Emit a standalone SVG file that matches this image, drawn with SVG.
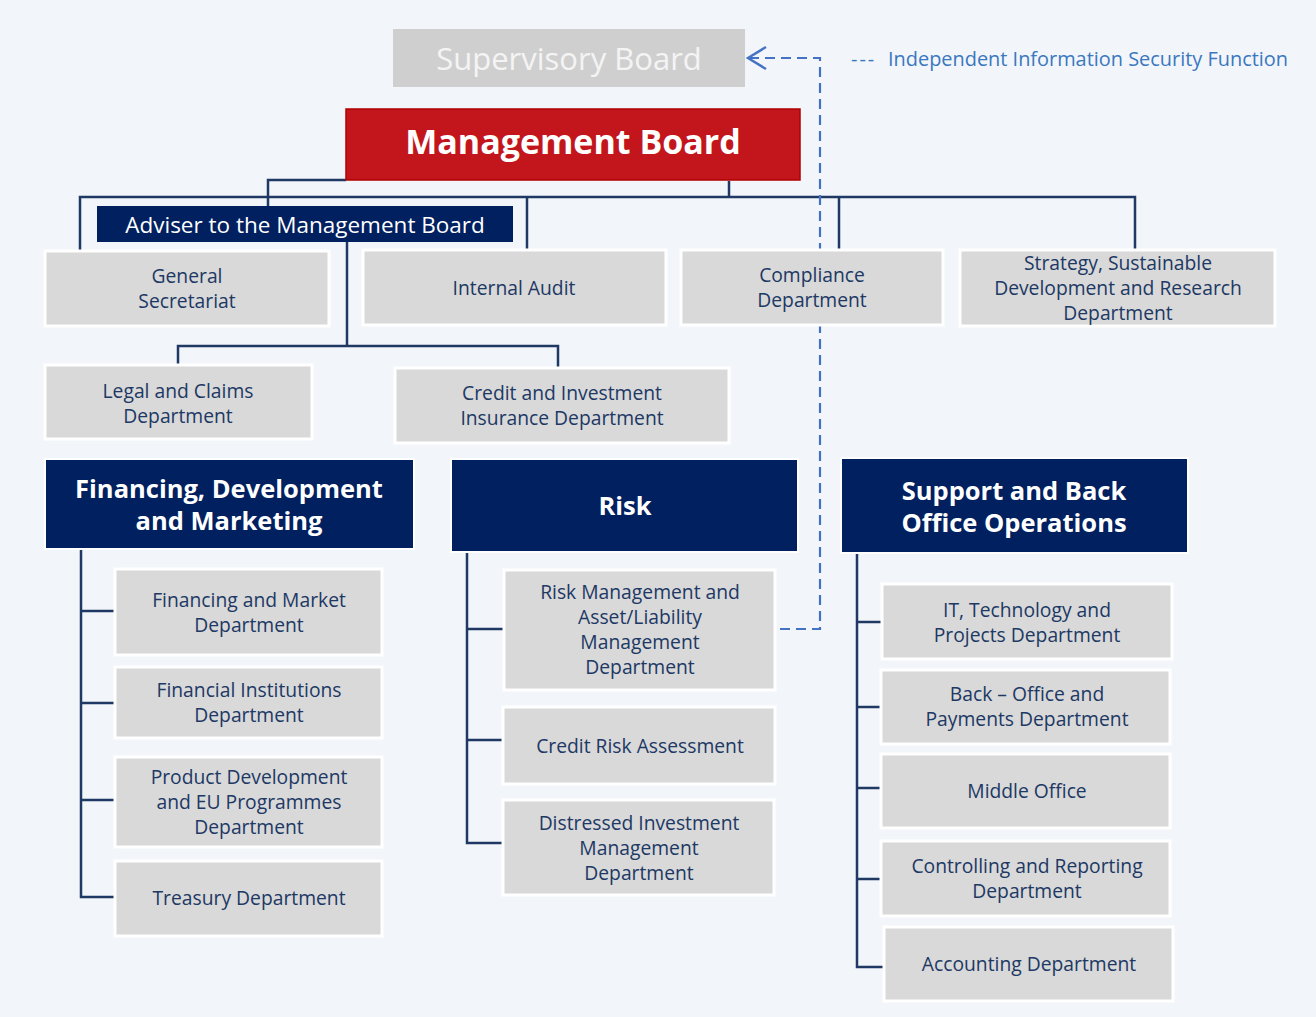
<svg xmlns="http://www.w3.org/2000/svg" width="1316" height="1017" viewBox="0 0 1316 1017">
<defs>
<style>
.box{fill:#d9d9d9;stroke:#ffffff;stroke-width:3}
.hdr{fill:#002060;stroke:#ffffff;stroke-width:2}
.t{font-family:"Open Sans","Noto Sans",sans-serif;font-size:19.3px;fill:#203864;text-anchor:middle}
.th{font-family:"Open Sans","Noto Sans",sans-serif;font-size:25.5px;font-weight:bold;fill:#ffffff;text-anchor:middle}
.ln{fill:none;stroke:#1f3864;stroke-width:2.5}
.dash{fill:none;stroke:#4472c4;stroke-width:2.2;stroke-dasharray:10 6}
</style>
<marker id="arr" viewBox="0 0 24 26" refX="21" refY="13" markerWidth="24" markerHeight="26" markerUnits="userSpaceOnUse" orient="auto">
<path d="M3,2 L21,13 L3,24" fill="none" stroke="#4472c4" stroke-width="2.4"/>
</marker>
</defs>
<rect x="0" y="0" width="1316" height="1017" fill="#f2f5f9"/>

<g id="connectors">
<path class="ln" d="M346,180 H268 V206"/>
<path class="ln" d="M729,181 V197"/>
<path class="ln" d="M80,250 V197 H1135 V250"/>
<path class="ln" d="M527,197 V250"/>
<path class="ln" d="M839,197 V250"/>
<path class="ln" d="M347,242 V346"/>
<path class="ln" d="M178,365 V346 H558 V368"/>
<path class="ln" d="M81,549 V897 H115"/>
<path class="ln" d="M81,611 H115 M81,703 H115 M81,800 H115"/>
<path class="ln" d="M467,552 V843 H504"/>
<path class="ln" d="M467,629 H504 M467,740 H504"/>
<path class="ln" d="M857,553 V967 H884"/>
<path class="ln" d="M857,622 H882 M857,707 H881 M857,788 H881 M857,879 H881"/>
<path class="dash" d="M780,629 H820 V58 H748" marker-end="url(#arr)"/>
</g>

<g id="supervisory-board">
<rect x="393" y="29" width="352" height="58" fill="#d0cfd0"/>
<text x="569" y="70" font-family="'Open Sans','Noto Sans',sans-serif" font-size="31" fill="#f4f4f4" text-anchor="middle">Supervisory Board</text>
</g>

<g id="legend">
<text x="851" y="66" font-family="'Open Sans','Noto Sans',sans-serif" font-size="20" fill="#3a78c0" letter-spacing="2">---</text>
<text x="888" y="66" font-family="'Open Sans','Noto Sans',sans-serif" font-size="20" fill="#3a78c0" textLength="400" lengthAdjust="spacingAndGlyphs">Independent Information Security Function</text>
</g>

<g id="management-board">
<rect x="346" y="109" width="454" height="71" fill="#c3161c" stroke="#b00000" stroke-width="1.5"/>
<text x="573" y="154" font-family="'Open Sans','Noto Sans',sans-serif" font-size="34" font-weight="bold" fill="#ffffff" text-anchor="middle">Management Board</text>
</g>

<g id="adviser">
<rect x="97" y="206" width="416" height="36" fill="#002060"/>
<text x="305" y="233" font-family="'Open Sans','Noto Sans',sans-serif" font-size="22.5" fill="#ffffff" text-anchor="middle">Adviser to the Management Board</text>
</g>

<g id="general-secretariat">
<rect class="box" x="45" y="251" width="284" height="75"/>
<text class="t" x="187" y="283">General</text>
<text class="t" x="187" y="308">Secretariat</text>
</g>

<g id="internal-audit">
<rect class="box" x="363" y="250" width="303" height="75"/>
<text class="t" x="514" y="295">Internal Audit</text>
</g>

<g id="compliance">
<rect class="box" x="681" y="250" width="262" height="75"/>
<text class="t" x="812" y="282">Compliance</text>
<text class="t" x="812" y="307">Department</text>
</g>

<g id="strategy">
<rect class="box" x="960" y="250" width="315" height="76"/>
<text class="t" x="1118" y="270">Strategy, Sustainable</text>
<text class="t" x="1118" y="295">Development and Research</text>
<text class="t" x="1118" y="320">Department</text>
</g>

<g id="legal">
<rect class="box" x="45" y="365" width="267" height="74"/>
<text class="t" x="178" y="398">Legal and Claims</text>
<text class="t" x="178" y="423">Department</text>
</g>

<g id="credit-insurance">
<rect class="box" x="395" y="368" width="334" height="75"/>
<text class="t" x="562" y="400">Credit and Investment</text>
<text class="t" x="562" y="425">Insurance Department</text>
</g>

<g id="hdr-financing">
<rect class="hdr" x="45" y="459" width="369" height="90"/>
<text class="th" x="229" y="498">Financing, Development</text>
<text class="th" x="229" y="530">and Marketing</text>
</g>

<g id="hdr-risk">
<rect class="hdr" x="451" y="459" width="347" height="93"/>
<text class="th" x="625" y="515">Risk</text>
</g>

<g id="hdr-support">
<rect class="hdr" x="841" y="458" width="347" height="95"/>
<text class="th" x="1014" y="500">Support and Back</text>
<text class="th" x="1014" y="532">Office Operations</text>
</g>

<g id="financing-market">
<rect class="box" x="115" y="569" width="267" height="86"/>
<text class="t" x="249" y="607">Financing and Market</text>
<text class="t" x="249" y="632">Department</text>
</g>

<g id="financial-institutions">
<rect class="box" x="115" y="667" width="267" height="71"/>
<text class="t" x="249" y="697">Financial Institutions</text>
<text class="t" x="249" y="722">Department</text>
</g>

<g id="product-development">
<rect class="box" x="115" y="757" width="267" height="90"/>
<text class="t" x="249" y="784">Product Development</text>
<text class="t" x="249" y="809">and EU Programmes</text>
<text class="t" x="249" y="834">Department</text>
</g>

<g id="treasury">
<rect class="box" x="115" y="861" width="267" height="75"/>
<text class="t" x="249" y="905">Treasury Department</text>
</g>

<g id="risk-management">
<rect class="box" x="504" y="570" width="271" height="120"/>
<text class="t" x="640" y="599">Risk Management and</text>
<text class="t" x="640" y="624">Asset/Liability</text>
<text class="t" x="640" y="649">Management</text>
<text class="t" x="640" y="674">Department</text>
</g>

<g id="credit-risk">
<rect class="box" x="503" y="707" width="272" height="77"/>
<text class="t" x="640" y="753">Credit Risk Assessment</text>
</g>

<g id="distressed">
<rect class="box" x="503" y="800" width="271" height="95"/>
<text class="t" x="639" y="830">Distressed Investment</text>
<text class="t" x="639" y="855">Management</text>
<text class="t" x="639" y="880">Department</text>
</g>

<g id="it">
<rect class="box" x="882" y="584" width="290" height="75"/>
<text class="t" x="1027" y="617">IT, Technology and</text>
<text class="t" x="1027" y="642">Projects Department</text>
</g>

<g id="back-office">
<rect class="box" x="881" y="670" width="289" height="74"/>
<text class="t" x="1027" y="701">Back – Office and</text>
<text class="t" x="1027" y="726">Payments Department</text>
</g>

<g id="middle-office">
<rect class="box" x="881" y="754" width="289" height="74"/>
<text class="t" x="1027" y="798">Middle Office</text>
</g>

<g id="controlling">
<rect class="box" x="881" y="841" width="289" height="75"/>
<text class="t" x="1027" y="873">Controlling and Reporting</text>
<text class="t" x="1027" y="898">Department</text>
</g>

<g id="accounting">
<rect class="box" x="884" y="927" width="289" height="74"/>
<text class="t" x="1029" y="971">Accounting Department</text>
</g>
</svg>
